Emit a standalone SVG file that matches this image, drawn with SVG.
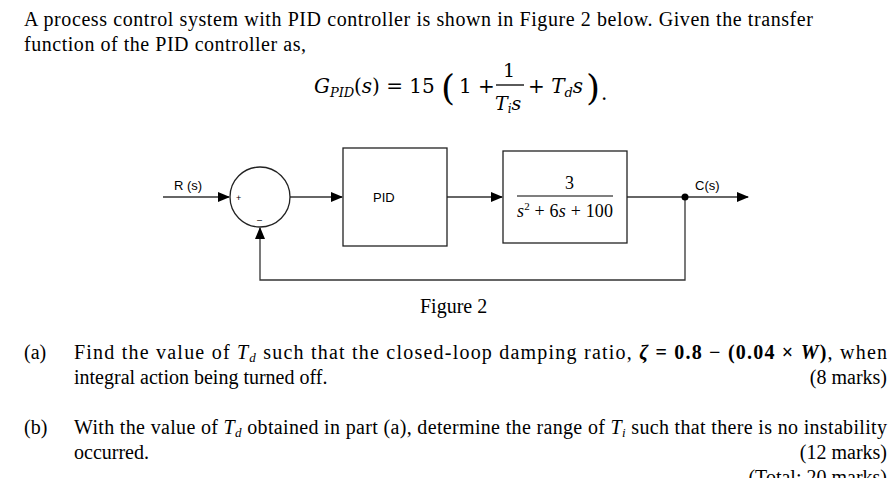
<svg xmlns="http://www.w3.org/2000/svg" width="891" height="478" viewBox="0 0 891 478">
<style>
.t{font-family:"Liberation Serif",serif;font-size:20px;fill:#000}
.s{font-family:"Liberation Sans",sans-serif;font-size:13px;fill:#000}
.ln{stroke:#333;stroke-width:1.3;fill:none}
.bx{fill:#fff;stroke:#222;stroke-width:1.3}
</style>
<defs><marker id="a" markerWidth="12" markerHeight="10" refX="11" refY="5" orient="auto" markerUnits="userSpaceOnUse"><path d="M0,0L12,5L0,10z" fill="#000"/></marker></defs>
<rect width="891" height="478" fill="#fff"/>
<text class="t" x="24" y="26" textLength="789" lengthAdjust="spacing">A process control system with PID controller is shown in Figure 2 below. Given the transfer</text>
<text class="t" x="24" y="51" textLength="282" lengthAdjust="spacing">function of the PID controller as,</text>
<g id="eq" font-family="'DejaVu Serif',serif" font-size="20">
<text x="314" y="93" font-style="italic">G<tspan font-size="13" dy="4">PID</tspan></text>
<text x="354" y="93">(<tspan font-style="italic">s</tspan>) = 15</text>
<text x="441" y="100" font-size="36" font-weight="lighter">(</text>
<text x="459" y="93">1 +</text>
<text x="503" y="77" font-size="19">1</text>
<line x1="496" y1="85" x2="524" y2="85" stroke="#000" stroke-width="1.3"/>
<text x="495" y="110" font-style="italic" font-size="19">T<tspan font-size="12" dy="3">i</tspan><tspan dy="-3">s</tspan></text>
<text x="528" y="93">+ <tspan font-style="italic">T<tspan font-size="13" dy="4">d</tspan><tspan dy="-4">s</tspan></tspan></text>
<text x="586" y="100" font-size="36">)</text>
<text x="601" y="100">.</text>
</g>
<g id="connectors">
<line class="ln" x1="163" y1="197" x2="229" y2="197" marker-end="url(#a)"/>
<line class="ln" x1="290" y1="197" x2="342" y2="197" marker-end="url(#a)"/>
<line class="ln" x1="447" y1="197" x2="502" y2="197" marker-end="url(#a)"/>
<line class="ln" x1="627" y1="197" x2="748" y2="197" marker-end="url(#a)"/>
<polyline class="ln" points="685,197 685,280 260,280 260,228" marker-end="url(#a)"/>
<circle cx="685" cy="197" r="3.5" fill="#000"/>
</g>
<g id="sum"><circle cx="260" cy="197" r="30" class="bx"/>
<text x="236" y="201" font-family="Liberation Sans,sans-serif" font-size="9">+</text>
<text x="257" y="223" font-family="Liberation Sans,sans-serif" font-size="9">–</text></g>
<g id="pid"><rect x="343" y="148" width="104" height="98" class="bx"/><text class="s" x="373" y="202">PID</text></g>
<g id="plant"><rect x="503" y="151" width="124" height="92" class="bx"/>
<text font-family="Liberation Serif,serif" font-size="18" x="565" y="189">3</text>
<line x1="517" y1="196" x2="613" y2="196" stroke="#000" stroke-width="1.2"/>
<text font-family="Liberation Serif,serif" font-size="18" x="517" y="217" textLength="96" lengthAdjust="spacing"><tspan font-style="italic">s</tspan><tspan font-size="11" dy="-7">2</tspan><tspan dy="7"> + 6</tspan><tspan font-style="italic">s</tspan> + 100</text></g>
<text class="s" x="174" y="190">R (s)</text>
<text class="s" x="695" y="190">C(s)</text>
<text class="t" x="420" y="313">Figure 2</text>
<text class="t" x="24" y="359">(a)</text>
<text class="t" x="74" y="359" textLength="813" lengthAdjust="spacing">Find the value of <tspan font-style="italic">T<tspan font-size="13" dy="3">d</tspan></tspan><tspan dy="-3"> such that the closed-loop damping ratio, </tspan><tspan font-weight="bold" font-style="italic">ζ</tspan><tspan font-weight="bold"> = 0.8 − (0.04 × </tspan><tspan font-weight="bold" font-style="italic">W</tspan><tspan font-weight="bold">)</tspan>, when</text>
<text class="t" x="74" y="384">integral action being turned off.</text>
<text class="t" x="887" y="384" text-anchor="end">(8 marks)</text>
<text class="t" x="24" y="434">(b)</text>
<text class="t" x="74" y="434" textLength="813" lengthAdjust="spacing">With the value of <tspan font-style="italic">T<tspan font-size="13" dy="3">d</tspan></tspan><tspan dy="-3"> obtained in part (a), determine the range of </tspan><tspan font-style="italic">T<tspan font-size="13" dy="3">i</tspan></tspan><tspan dy="-3"> such that there is no instability</tspan></text>
<text class="t" x="74" y="459">occurred.</text>
<text class="t" x="887" y="459" text-anchor="end">(12 marks)</text>
<text class="t" x="887" y="484" text-anchor="end">(Total: 20 marks)</text>
</svg>
